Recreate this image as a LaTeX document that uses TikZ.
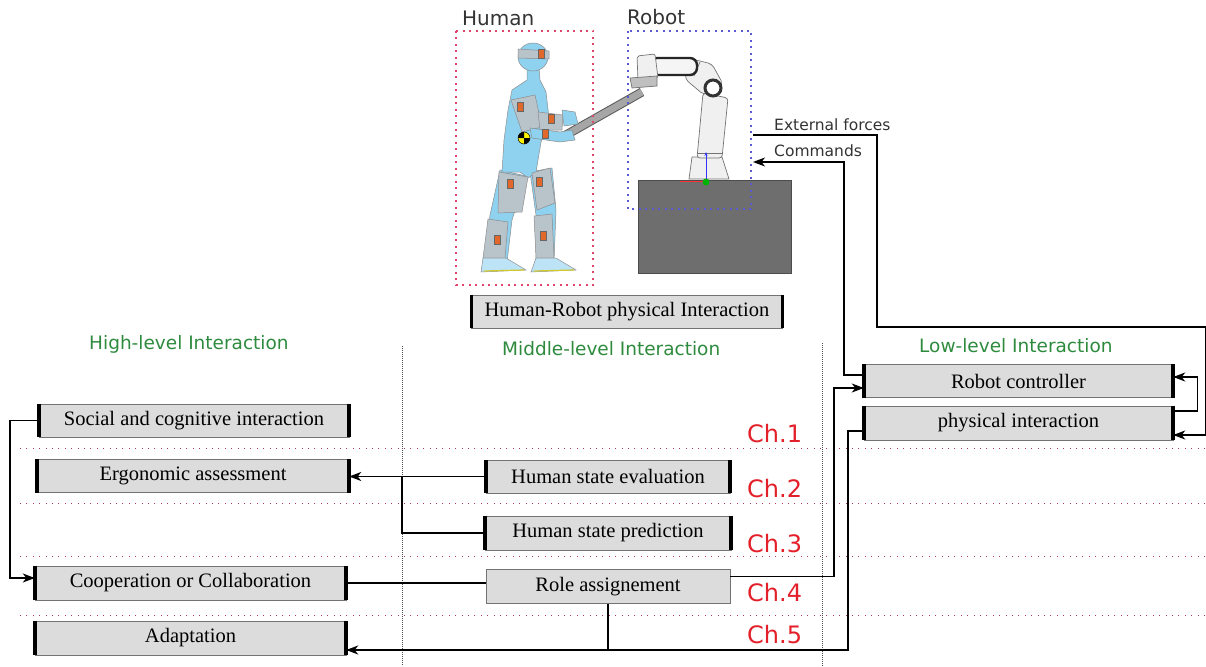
\documentclass[tikz,border=0pt]{standalone}
\usepackage{fontspec}
\setmainfont{Liberation Serif}
\newfontfamily\dejavu{DejaVu Sans}
\usetikzlibrary{arrows.meta}
\definecolor{boxgray}{HTML}{DCDCDC}
\definecolor{lvlgreen}{HTML}{2E8B3E}
\definecolor{chred}{HTML}{E3202A}
\definecolor{sepred}{HTML}{B03A5A}
\definecolor{framered}{HTML}{E0446C}
\definecolor{frameblue}{HTML}{5A5AD2}
\definecolor{skin}{HTML}{8FD2F0}
\definecolor{pad}{HTML}{B9C3CA}
\definecolor{sensor}{HTML}{E0682A}
\begin{document}
\begin{tikzpicture}[x=1pt,y=-1pt,
  box/.style={draw=black!55,fill=boxgray,minimum height=33,inner sep=0pt,font=\fontsize{20.5}{24}\selectfont},
  endbar/.style={line width=3.5pt},
  conn/.style={line width=1.4pt},
  arr/.style={conn,-{Stealth[length=12pt,width=9pt,inset=3.5pt]}},
  lvl/.style={anchor=base west,text=lvlgreen,inner sep=0pt,font=\dejavu\fontsize{18.5}{20}\selectfont},
  ch/.style={anchor=base west,text=chred,inner sep=0pt,font=\dejavu\fontsize{24}{26}\selectfont},
  note/.style={anchor=base west,text=black!80,inner sep=0pt},
  chapline/.style={sepred,line width=0.9pt,dash pattern=on 0.9pt off 5.5pt},
  colline/.style={black!70,line width=0.7pt,dash pattern=on 0.7pt off 1.3pt},
  limb/.style={draw=black!45,line width=0.5pt},
  link/.style={draw=black!55,fill=black!6,line width=0.7pt},
  mk/.style={draw=black!60,fill=sensor,line width=0.4pt}]
\useasboundingbox (0,0) rectangle (1206,666);

% robot and pedestal
\draw[fill=black!57,draw=black!70] (638,180) rectangle (791,273);
\draw[link] (692,157) -- (722,157) -- (729,179) -- (689,179) -- cycle;
\draw[link,rounded corners=3] (703,93) -- (728,98) -- (722,158) -- (697,158) -- cycle;
\draw[link] (697,153) -- (722,153);
\draw[link,rounded corners=4] (688,58) -- (712,64) -- (723,84) -- (704,95) -- (685,79) -- cycle;
\draw[link] (700,62) -- (694,76);
\draw[line width=3pt,black!80,fill=white] (713,88) circle[radius=8];
\draw[line width=2.4pt,black!85,fill=black!4,rounded corners=7] (650,58) rectangle (697,75);
\draw[link,rounded corners=2] (637,56) -- (655,54) -- (658,78) -- (638,80) -- cycle;
\draw[link,fill=black!25] (630,78) -- (657,76) -- (657,86) -- (632,88) -- cycle;
\draw[blue!80,line width=0.8pt,-{Stealth[length=4pt]}] (706,181) -- (706,152);
\draw[red!80,line width=1pt] (680,181) -- (706,181);
\fill[green!70!black] (706,182) circle[radius=3.5];

% human
\draw[line width=9pt,black!65] (566,135) -- (642,92);
\draw[line width=7pt,black!35] (566,135) -- (642,92);
\draw[limb,fill=skin] (500,170) -- (526,176) -- (512,220) -- (507,262) -- (485,262) -- (490,215) -- cycle;
\draw[limb,fill=skin] (530,172) -- (552,168) -- (556,210) -- (554,262) -- (536,262) -- (536,215) -- cycle;
\draw[limb,fill=skin] (527,66) -- (539,68) -- (540,80) -- (546,92) -- (549,118) -- (541,142) -- (536,172)
  -- (528,178) -- (520,172) -- (502,172) -- (504,140) -- (508,110) -- (512,90) -- (527,80) -- cycle;
\draw[limb,fill=skin] (533,57) ellipse[x radius=15,y radius=14];
\draw[limb,fill=pad] (518,49) -- (549,51) -- (549,59) -- (518,58) -- cycle;
\draw[limb,fill=pad] (511,100) -- (535,95) -- (542,127) -- (522,132) -- cycle;
\draw[limb,fill=pad] (538,112) -- (563,115) -- (562,130) -- (540,130) -- cycle;
\draw[limb,fill=skin] (530,128) -- (560,132) -- (572,130) -- (575,140) -- (560,142) -- (532,138) -- cycle;
\draw[limb,fill=skin] (562,110) -- (575,112) -- (578,124) -- (564,126) -- cycle;
\draw[limb,fill=pad] (499,172) -- (528,177) -- (522,212) -- (498,213) -- cycle;
\draw[limb,fill=pad] (532,173) -- (550,168) -- (555,203) -- (537,210) -- cycle;
\draw[limb,fill=pad] (488,219) -- (508,222) -- (505,258) -- (483,258) -- cycle;
\draw[limb,fill=pad] (534,216) -- (552,214) -- (554,258) -- (536,258) -- cycle;
\draw[limb,fill=skin!60] (483,258) -- (506,258) -- (526,270) -- (481,272) -- cycle;
\draw[limb,fill=skin!60] (536,258) -- (556,258) -- (576,270) -- (531,272) -- cycle;
\draw[yellow!80!black,line width=1.2pt] (484,271) -- (524,270) (534,271) -- (574,270);
\foreach \x/\y in {541/54,520/107,551/119,545/134,510/184,539/182,497/240,543/236}
  \draw[mk] (\x-3,\y-4.5) rectangle (\x+3,\y+4.5);
\fill[yellow] (524,138) circle[radius=6];
\fill[black] (524,138) -- (530,138) arc[start angle=0,end angle=90,radius=6] -- cycle;
\fill[black] (524,138) -- (518,138) arc[start angle=180,end angle=270,radius=6] -- cycle;
\draw[black,line width=0.5pt] (524,138) circle[radius=6];

% frames and labels
\draw[framered,line width=1.4pt,dash pattern=on 2pt off 4.5pt] (456,31) rectangle (593,285);
\draw[frameblue,line width=1.4pt,dash pattern=on 2pt off 4.5pt] (628,31) rectangle (751,209);
\node[note,font=\dejavu\fontsize{20}{22}\selectfont] (hlab) at (462,26) {Human};
\node[note,font=\dejavu\fontsize{20}{22}\selectfont] (rlab) at (627,25) {Robot};
\node[note,font=\dejavu\fontsize{15.5}{17}\selectfont] (flab) at (774,130) {External forces};
\node[note,font=\dejavu\fontsize{15.5}{17}\selectfont] (clab) at (774,156) {Commands};

\node[lvl] (high) at (89,349) {High-level Interaction};
\node[lvl] (mid) at (502,355) {Middle-level Interaction};
\node[lvl] (low) at (919,352) {Low-level Interaction};

\foreach \y in {448,503,556,615}
  \draw[chapline] (20,\y) -- (1206,\y);
\draw[colline] (402,346) -- (402,666);
\draw[colline] (822,343) -- (822,666);
\foreach \i/\y in {1/442,2/497,3/552,4/601,5/643}
  \node[ch] (ch\i) at (747,\y) {Ch.\i};

% boxes
\node[box,minimum width=311] (hrpi) at (627,311.5) {Human-Robot physical Interaction};
\node[box,minimum width=310] (soc) at (194,420.5) {Social and cognitive interaction};
\node[box,minimum width=312] (ergo) at (193,476) {Ergonomic assessment};
\node[box,minimum width=311,minimum height=34] (coop) at (190.5,583) {Cooperation or Collaboration};
\node[box,minimum width=311,minimum height=34] (adapt) at (190.5,638) {Adaptation};
\node[box,minimum width=244] (hse) at (608,476.5) {Human state evaluation};
\node[box,minimum width=246,minimum height=34] (hsp) at (608,533) {Human state prediction};
\node[box,minimum width=244,minimum height=34] (role) at (608,586.5) {Role assignement};
\node[box,minimum width=309] (ctrl) at (1018.5,381) {Robot controller};
\node[box,minimum width=309,minimum height=34] (phys) at (1018.5,423) {physical interaction};
\foreach \b in {hrpi,soc,ergo,coop,adapt,hse,hsp,ctrl,phys}
  \draw[endbar] (\b.north west) -- (\b.south west) (\b.north east) -- (\b.south east);

% connectors
\coordinate (extout) at (753,135);
\coordinate (cmdin) at (753,162);
\coordinate (j1) at (402,476);
\draw[arr] (soc.west) -- ++(-29,0) |- ([yshift=5pt]coop.west);
\draw[arr] (hse.west) -- (hse.west -| ergo.east);
\draw[conn] (hsp.west) -| (j1);
\draw[conn] (coop.east) -- (coop.east -| role.west);
\draw[arr] ([yshift=10pt]role.east) -| ([xshift=-30pt,yshift=-7pt]ctrl.west) -- ([yshift=-7pt]ctrl.west);
\draw[arr] ([yshift=6pt]ctrl.west) -- ++(-20,0) |- (cmdin);
\draw[arr] (extout) -| (877,327) -| ([xshift=32pt,yshift=-12pt]phys.east) -- ([yshift=-12pt]phys.east);
\draw[arr] ([yshift=12pt]phys.east) -- ++(24,0) |- ([yshift=4pt]ctrl.east);
\draw[arr] ([yshift=-8pt]phys.west) -- ++(-16,0) |- ([yshift=-12pt]adapt.east);
\draw[conn] (role.south) -- ++(0,46);
\end{tikzpicture}
\end{document}
